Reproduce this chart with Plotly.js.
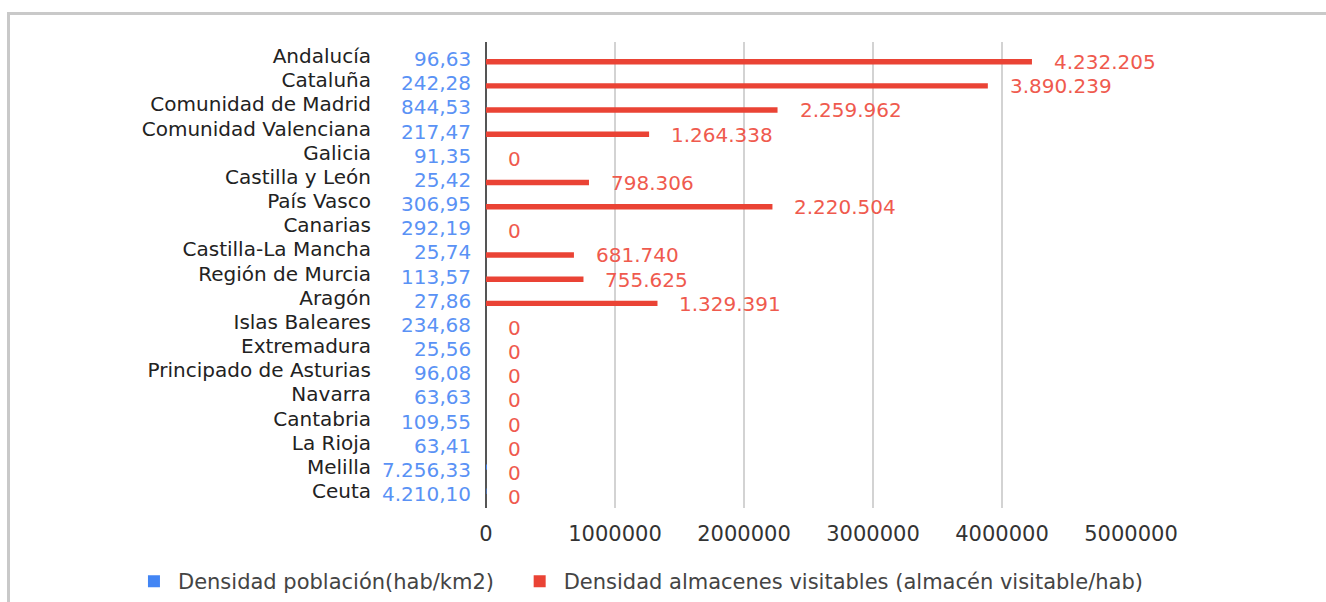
<!DOCTYPE html>
<html>
<head>
<meta charset="utf-8">
<script src="https://cdn.plot.ly/plotly-3.0.1.min.js"></script>
<style>
  html, body { margin: 0; padding: 0; background: #fff; }
  #wrap { position: relative; width: 1326px; height: 602px; overflow: hidden; }
  #chart { position: absolute; left: 0; top: 0; width: 1326px; height: 602px; }
  #frame { position: absolute; left: 7px; top: 12px; width: 1330px; height: 600px;
           border-top: 3px solid #c9c9c9; border-left: 3px solid #c9c9c9; pointer-events: none; }
</style>
</head>
<body>
<div id="wrap">
  <div id="chart"></div>
  <div id="frame"></div>
</div>
<script>
const categories = [
  "Andalucía", "Cataluña", "Comunidad de Madrid", "Comunidad Valenciana", "Galicia",
  "Castilla y León", "País Vasco", "Canarias", "Castilla-La Mancha", "Región de Murcia",
  "Aragón", "Islas Baleares", "Extremadura", "Principado de Asturias", "Navarra",
  "Cantabria", "La Rioja", "Melilla", "Ceuta"
];
const densidadPoblacion = [
  96.63, 242.28, 844.53, 217.47, 91.35,
  25.42, 306.95, 292.19, 25.74, 113.57,
  27.86, 234.68, 25.56, 96.08, 63.63,
  109.55, 63.41, 7256.33, 4210.10
];
const densidadAlmacenes = [
  4232205, 3890239, 2259962, 1264338, 0,
  798306, 2220504, 0, 681740, 755625,
  1329391, 0, 0, 0, 0,
  0, 0, 0, 0
];
const xTickVals = [0, 1000000, 2000000, 3000000, 4000000, 5000000];
const xTickText = ["0", "1000000", "2000000", "3000000", "4000000", "5000000"];
const seriesNames = [
  "Densidad población(hab/km2)",
  "Densidad almacenes visitables (almacén visitable/hab)"
];

const BLUE = "#4285F4";
const RED = "#EA4335";

function groupThousands(s) { return s.replace(/\B(?=(\d{3})+(?!\d))/g, "."); }
function fmtInt(v) { return groupThousands(String(Math.round(v))); }
function fmtDec(v) {
  const p = v.toFixed(2).split(".");
  return groupThousands(p[0]) + "," + p[1];
}

const traces = [
  {
    type: "bar", orientation: "h", name: seriesNames[0], legend: "legend",
    y: categories, x: densidadPoblacion,
    marker: { color: BLUE }, hoverinfo: "none"
  },
  {
    type: "bar", orientation: "h", name: seriesNames[1], legend: "legend2",
    y: categories, x: densidadAlmacenes,
    marker: { color: RED }, hoverinfo: "none"
  }
];

const labelFont = "DejaVu Sans, Arial, sans-serif";
const annotations = [];
categories.forEach((c, i) => {
  annotations.push({
    x: 0, y: c, xref: "x", yref: "y", showarrow: false,
    xanchor: "right", yanchor: "middle", xshift: -13, yshift: 0,
    text: fmtDec(densidadPoblacion[i]),
    font: { family: labelFont, size: 20, color: "#5a92f5" }
  });
  annotations.push({
    x: densidadAlmacenes[i], y: c, xref: "x", yref: "y", showarrow: false,
    xanchor: "left", yanchor: "middle", xshift: 20, yshift: -3,
    text: fmtInt(densidadAlmacenes[i]),
    font: { family: labelFont, size: 20, color: "#ef5a4e" }
  });
});

const legendCommon = {
  orientation: "h", xanchor: "left", y: -0.158, yanchor: "middle",
  font: { family: labelFont, size: 21, color: "#444" },
  itemwidth: 38, bgcolor: "rgba(0,0,0,0)"
};

const layout = {
  width: 1326, height: 602,
  margin: { l: 486, r: 195, t: 42, b: 94, pad: 0, autoexpand: false },
  paper_bgcolor: "#ffffff", plot_bgcolor: "#ffffff",
  barmode: "group", bargap: 0.55, bargroupgap: 0,
  showlegend: true,
  legend: Object.assign({}, legendCommon, { x: -0.552 }),
  legend2: Object.assign({}, legendCommon, { x: 0.046 }),
  xaxis: {
    range: [0, 5000000], tickmode: "array", tickvals: xTickVals, ticktext: xTickText,
    showgrid: true, gridcolor: "#d3d3d3", gridwidth: 2,
    zeroline: true, zerolinecolor: "#555", zerolinewidth: 2,
    showline: false, ticks: "outside", ticklen: 7, tickcolor: "rgba(0,0,0,0)",
    tickfont: { family: labelFont, size: 21, color: "#333" },
    automargin: false, fixedrange: true
  },
  yaxis: {
    type: "category", autorange: "reversed",
    tickmode: "array", tickvals: categories, ticktext: categories,
    showgrid: false, zeroline: false, showline: false,
    ticks: "outside", ticklen: 110, tickcolor: "rgba(0,0,0,0)",
    ticklabelshift: 3,
    tickfont: { family: labelFont, size: 20, color: "#222" },
    automargin: false, fixedrange: true
  },
  annotations: annotations
};

Plotly.newPlot("chart", traces, layout, { staticPlot: true, displayModeBar: false });
</script>
</body>
</html>
